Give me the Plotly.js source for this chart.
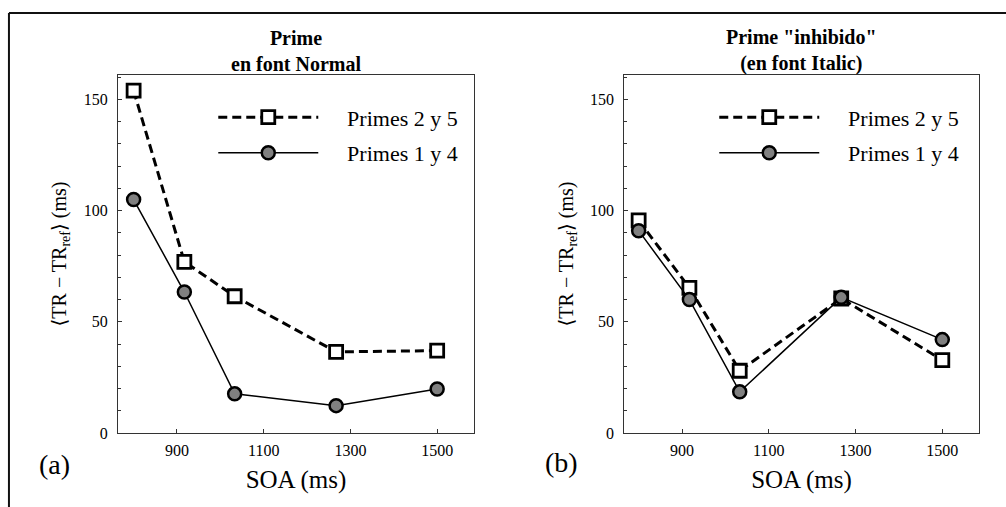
<!DOCTYPE html>
<html>
<head>
<meta charset="utf-8">
<script src="https://cdn.plot.ly/plotly-3.0.1.min.js"></script>
<style>html,body{margin:0;padding:0;background:#fff;}#chart{width:1006px;height:507px;}</style>
</head>
<body>
<div id="chart"></div>
<script>
// SOA values (ms)
const soa = [800, 917, 1033, 1267, 1500];
// Panel (a): Prime en font Normal
const a_primes25 = [154, 77, 61.5, 36.5, 37];
const a_primes14 = [105, 63.4, 17.6, 12.3, 19.8];
// Panel (b): Prime "inhibido" (en font Italic)
const b_primes25 = [95.6, 65.3, 28, 60.5, 32.8];
const b_primes14 = [91, 60, 18.5, 61, 42];
const seriesNames = ['Primes 2 y 5', 'Primes 1 y 4'];
const panelTitles = ['Prime<br>en font Normal', 'Prime "inhibido"<br>(en font Italic)'];
const panelLabels = ['(a)', '(b)'];
const xTitle = 'SOA (ms)';
const yTitle = '\u27E8TR \u2212 TR<sub>ref</sub>\u27E9 (ms)';

const serif = '"Liberation Serif", "Times New Roman", Times, "DejaVu Serif", serif';
const pad = '\u2003\u200A';

function sq(x, y, xa, ya, leg) {
  return {x: x, y: y, xaxis: xa, yaxis: ya, legend: leg, legendgroup: 'g1' + leg, name: pad + seriesNames[0], mode: 'lines+markers',
    line: {color: '#000', width: 3, dash: '9px,5px'},
    marker: {symbol: 'square', size: 13, color: '#fff', line: {color: '#000', width: 2.8}}};
}
function ci(x, y, xa, ya, leg) {
  return {x: x, y: y, xaxis: xa, yaxis: ya, legend: leg, legendgroup: 'g2' + leg, name: pad + seriesNames[1], mode: 'lines+markers',
    line: {color: '#000', width: 1.5},
    marker: {symbol: 'circle', size: 13, color: '#808080', line: {color: '#000', width: 2.5}}};
}
const data = [
  sq(soa, a_primes25, 'x', 'y', 'legend'),
  ci(soa, a_primes14, 'x', 'y', 'legend'),
  sq(soa, b_primes25, 'x2', 'y2', 'legend2'),
  ci(soa, b_primes14, 'x2', 'y2', 'legend2')
];

function xax(dom, rng, anchor) {
  return {domain: dom, range: rng, anchor: anchor, showgrid: false, zeroline: false,
    showline: true, mirror: true, linecolor: '#333', linewidth: 1,
    ticks: 'inside', ticklen: 4, tickcolor: '#333', tick0: 900, dtick: 200,
    tickfont: {family: serif, size: 16, color: '#000'}, ticklabelstandoff: 3,
    title: {text: xTitle, font: {family: serif, size: 25, color: '#000'}, standoff: 12}};
}
function yax(dom, anchor) {
  return {domain: dom, range: [0, 161], anchor: anchor, showgrid: false, zeroline: false,
    showline: true, mirror: true, linecolor: '#333', linewidth: 1,
    ticks: 'inside', ticklen: 4, tickcolor: '#333', tick0: 0, dtick: 50,
    minor: {dtick: 10, ticks: 'inside', ticklen: 3, tickcolor: '#333'},
    tickfont: {family: serif, size: 16, color: '#000'}, ticklabelstandoff: 6,
    title: {text: yTitle, font: {family: serif, size: 20, color: '#000'}, standoff: 11}};
}
const yDom = [0.146, 0.852];
const legendStyle = (x) => ({x: x, y: 0.810, xanchor: 'left', yanchor: 'top', bgcolor: 'rgba(0,0,0,0)',
  font: {family: serif, size: 22, color: '#000'}, itemwidth: 100, traceorder: 'grouped', tracegroupgap: 4});

const layout = {
  width: 1006, height: 507, margin: {l: 0, r: 0, t: 0, b: 0},
  paper_bgcolor: '#fff', plot_bgcolor: '#fff', showlegend: true,
  xaxis: xax([0.1173, 0.4712], [764, 1585], 'y'),
  yaxis: yax(yDom, 'x'),
  xaxis2: xax([0.6206, 0.9729], [767, 1584], 'y2'),
  yaxis2: yax(yDom, 'x2'),
  legend: legendStyle(0.212),
  legend2: legendStyle(0.710),
  annotations: [
    {text: '<b>' + panelTitles[0] + '</b>', xref: 'paper', yref: 'paper', x: 0.2943, y: 0.9, xanchor: 'center', yanchor: 'middle', showarrow: false, font: {family: serif, size: 20, color: '#000'}},
    {text: '<b>' + panelTitles[1] + '</b>', xref: 'paper', yref: 'paper', x: 0.7968, y: 0.9, xanchor: 'center', yanchor: 'middle', showarrow: false, font: {family: serif, size: 20, color: '#000'}},
    {text: panelLabels[0], xref: 'paper', yref: 'paper', x: 0.0537, y: 0.083, xanchor: 'center', yanchor: 'middle', showarrow: false, font: {family: serif, size: 28, color: '#000'}},
    {text: panelLabels[1], xref: 'paper', yref: 'paper', x: 0.5586, y: 0.087, xanchor: 'center', yanchor: 'middle', showarrow: false, font: {family: serif, size: 28, color: '#000'}}
  ],
  shapes: [
    {type: 'line', xref: 'paper', yref: 'paper', x0: 0.0089, x1: 1, y0: 0.9744, y1: 0.9744, line: {color: '#111', width: 2}},
    {type: 'line', xref: 'paper', yref: 'paper', x0: 0.0089, x1: 0.0089, y0: 0, y1: 0.9744, line: {color: '#111', width: 2}}
  ]
};
Plotly.newPlot('chart', data, layout, {staticPlot: true});
</script>
</body>
</html>
